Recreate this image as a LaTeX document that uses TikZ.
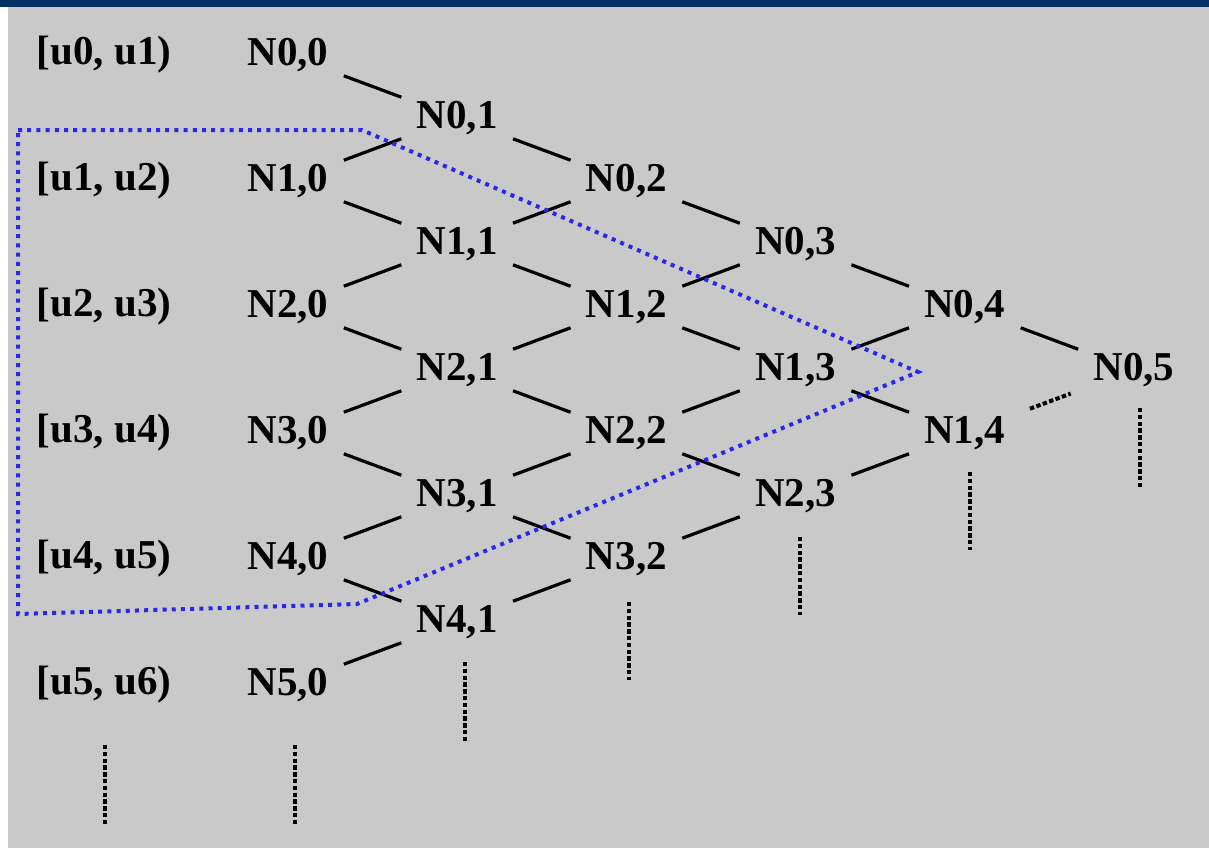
\documentclass[tikz,border=0pt]{standalone}
\usepackage{fontspec}
\setmainfont{Liberation Serif}
\usetikzlibrary{positioning}
\definecolor{panel}{RGB}{201,201,201}
\definecolor{topbar}{RGB}{0,50,100}
\definecolor{zoneblue}{RGB}{40,40,235}

\begin{document}
\begin{tikzpicture}[x=0.5pt, y=-0.5pt, node distance=31.5pt and 84.6pt, on grid,
	cell/.style={font=\bfseries\fontsize{20.5}{24}\selectfont, inner xsep=7.5pt, inner ysep=3pt},
	every edge/.style={draw, line width=1.6pt},
	etc/.style={line width=2pt, dash pattern=on 2.2pt off 1.2pt},
	zone/.style={draw=zoneblue, line width=2pt, dash pattern=on 2pt off 2.6pt}]
	\useasboundingbox (0,0) rectangle (1209,851);
	\fill[white] (0,0) rectangle (1209,851);
	\fill[panel] (8,7) rectangle (1209,848);
	\fill[topbar] (0,0) rectangle (1209,7);
	% intervals
	\node[cell] (u0) at (104,55) {[u0, u1)};
	\node[cell] (u1) [below=63pt of u0] {[u1, u2)};
	\node[cell] (u2) [below=63pt of u1] {[u2, u3)};
	\node[cell] (u3) [below=63pt of u2] {[u3, u4)};
	\node[cell] (u4) [below=63pt of u3] {[u4, u5)};
	\node[cell] (u5) [below=63pt of u4] {[u5, u6)};
	% lattice
	\node[cell] (n00) at (288,55) {N0,0};
	\node[cell] (n10) [below=63pt of n00] {N1,0};
	\node[cell] (n20) [below=63pt of n10] {N2,0};
	\node[cell] (n30) [below=63pt of n20] {N3,0};
	\node[cell] (n40) [below=63pt of n30] {N4,0};
	\node[cell] (n50) [below=63pt of n40] {N5,0};
	\node[cell] (n01) [below right=of n00] {N0,1};
	\node[cell] (n11) [below right=of n10] {N1,1};
	\node[cell] (n21) [below right=of n20] {N2,1};
	\node[cell] (n31) [below right=of n30] {N3,1};
	\node[cell] (n41) [below right=of n40] {N4,1};
	\node[cell] (n02) [below right=of n01] {N0,2};
	\node[cell] (n12) [below right=of n11] {N1,2};
	\node[cell] (n22) [below right=of n21] {N2,2};
	\node[cell] (n32) [below right=of n31] {N3,2};
	\node[cell] (n03) [below right=of n02] {N0,3};
	\node[cell] (n13) [below right=of n12] {N1,3};
	\node[cell] (n23) [below right=of n22] {N2,3};
	\node[cell] (n04) [below right=of n03] {N0,4};
	\node[cell] (n14) [below right=of n13] {N1,4};
	\node[cell] (n05) [below right=of n04] {N0,5};
	\path (n00) edge (n01);
	\path (n10) edge (n01);
	\path (n10) edge (n11);
	\path (n20) edge (n11);
	\path (n20) edge (n21);
	\path (n30) edge (n21);
	\path (n30) edge (n31);
	\path (n40) edge (n31);
	\path (n40) edge (n41);
	\path (n50) edge (n41);
	\path (n01) edge (n02);
	\path (n11) edge (n02);
	\path (n11) edge (n12);
	\path (n21) edge (n12);
	\path (n21) edge (n22);
	\path (n31) edge (n22);
	\path (n31) edge (n32);
	\path (n41) edge (n32);
	\path (n02) edge (n03);
	\path (n12) edge (n03);
	\path (n12) edge (n13);
	\path (n22) edge (n13);
	\path (n22) edge (n23);
	\path (n32) edge (n23);
	\path (n03) edge (n04);
	\path (n13) edge (n04);
	\path (n13) edge (n14);
	\path (n23) edge (n14);
	\path (n04) edge (n05);
	\path (n14) edge[etc, shorten <=5pt, shorten >=4pt] (n05);
	% continuation dots
	\path (u5) ++(1,60) coordinate (tu) ++(0,80) coordinate (bu);
	\path (n50) ++(7,60) coordinate (t50) ++(0,80) coordinate (b50);
	\path (n41) ++(8,40) coordinate (t41) ++(0,80) coordinate (b41);
	\path (n32) ++(3,43) coordinate (t32) ++(0,78) coordinate (b32);
	\path (n23) ++(4,41) coordinate (t23) ++(0,78) coordinate (b23);
	\path (n14) ++(5,39) coordinate (t14) ++(0,78) coordinate (b14);
	\path (n05) ++(6,38) coordinate (t05) ++(0,80) coordinate (b05);
	\draw[etc] (tu) -- (bu);
	\draw[etc] (t50) -- (b50);
	\draw[etc] (t41) -- (b41);
	\draw[etc] (t32) -- (b32);
	\draw[etc] (t23) -- (b23);
	\draw[etc] (t14) -- (b14);
	\draw[etc] (t05) -- (b05);
	% window
	\draw[zone] (18,130) -- (362,130) -- (918,372) -- (357,604) -- (18,614) -- cycle;
\end{tikzpicture}
\end{document}
